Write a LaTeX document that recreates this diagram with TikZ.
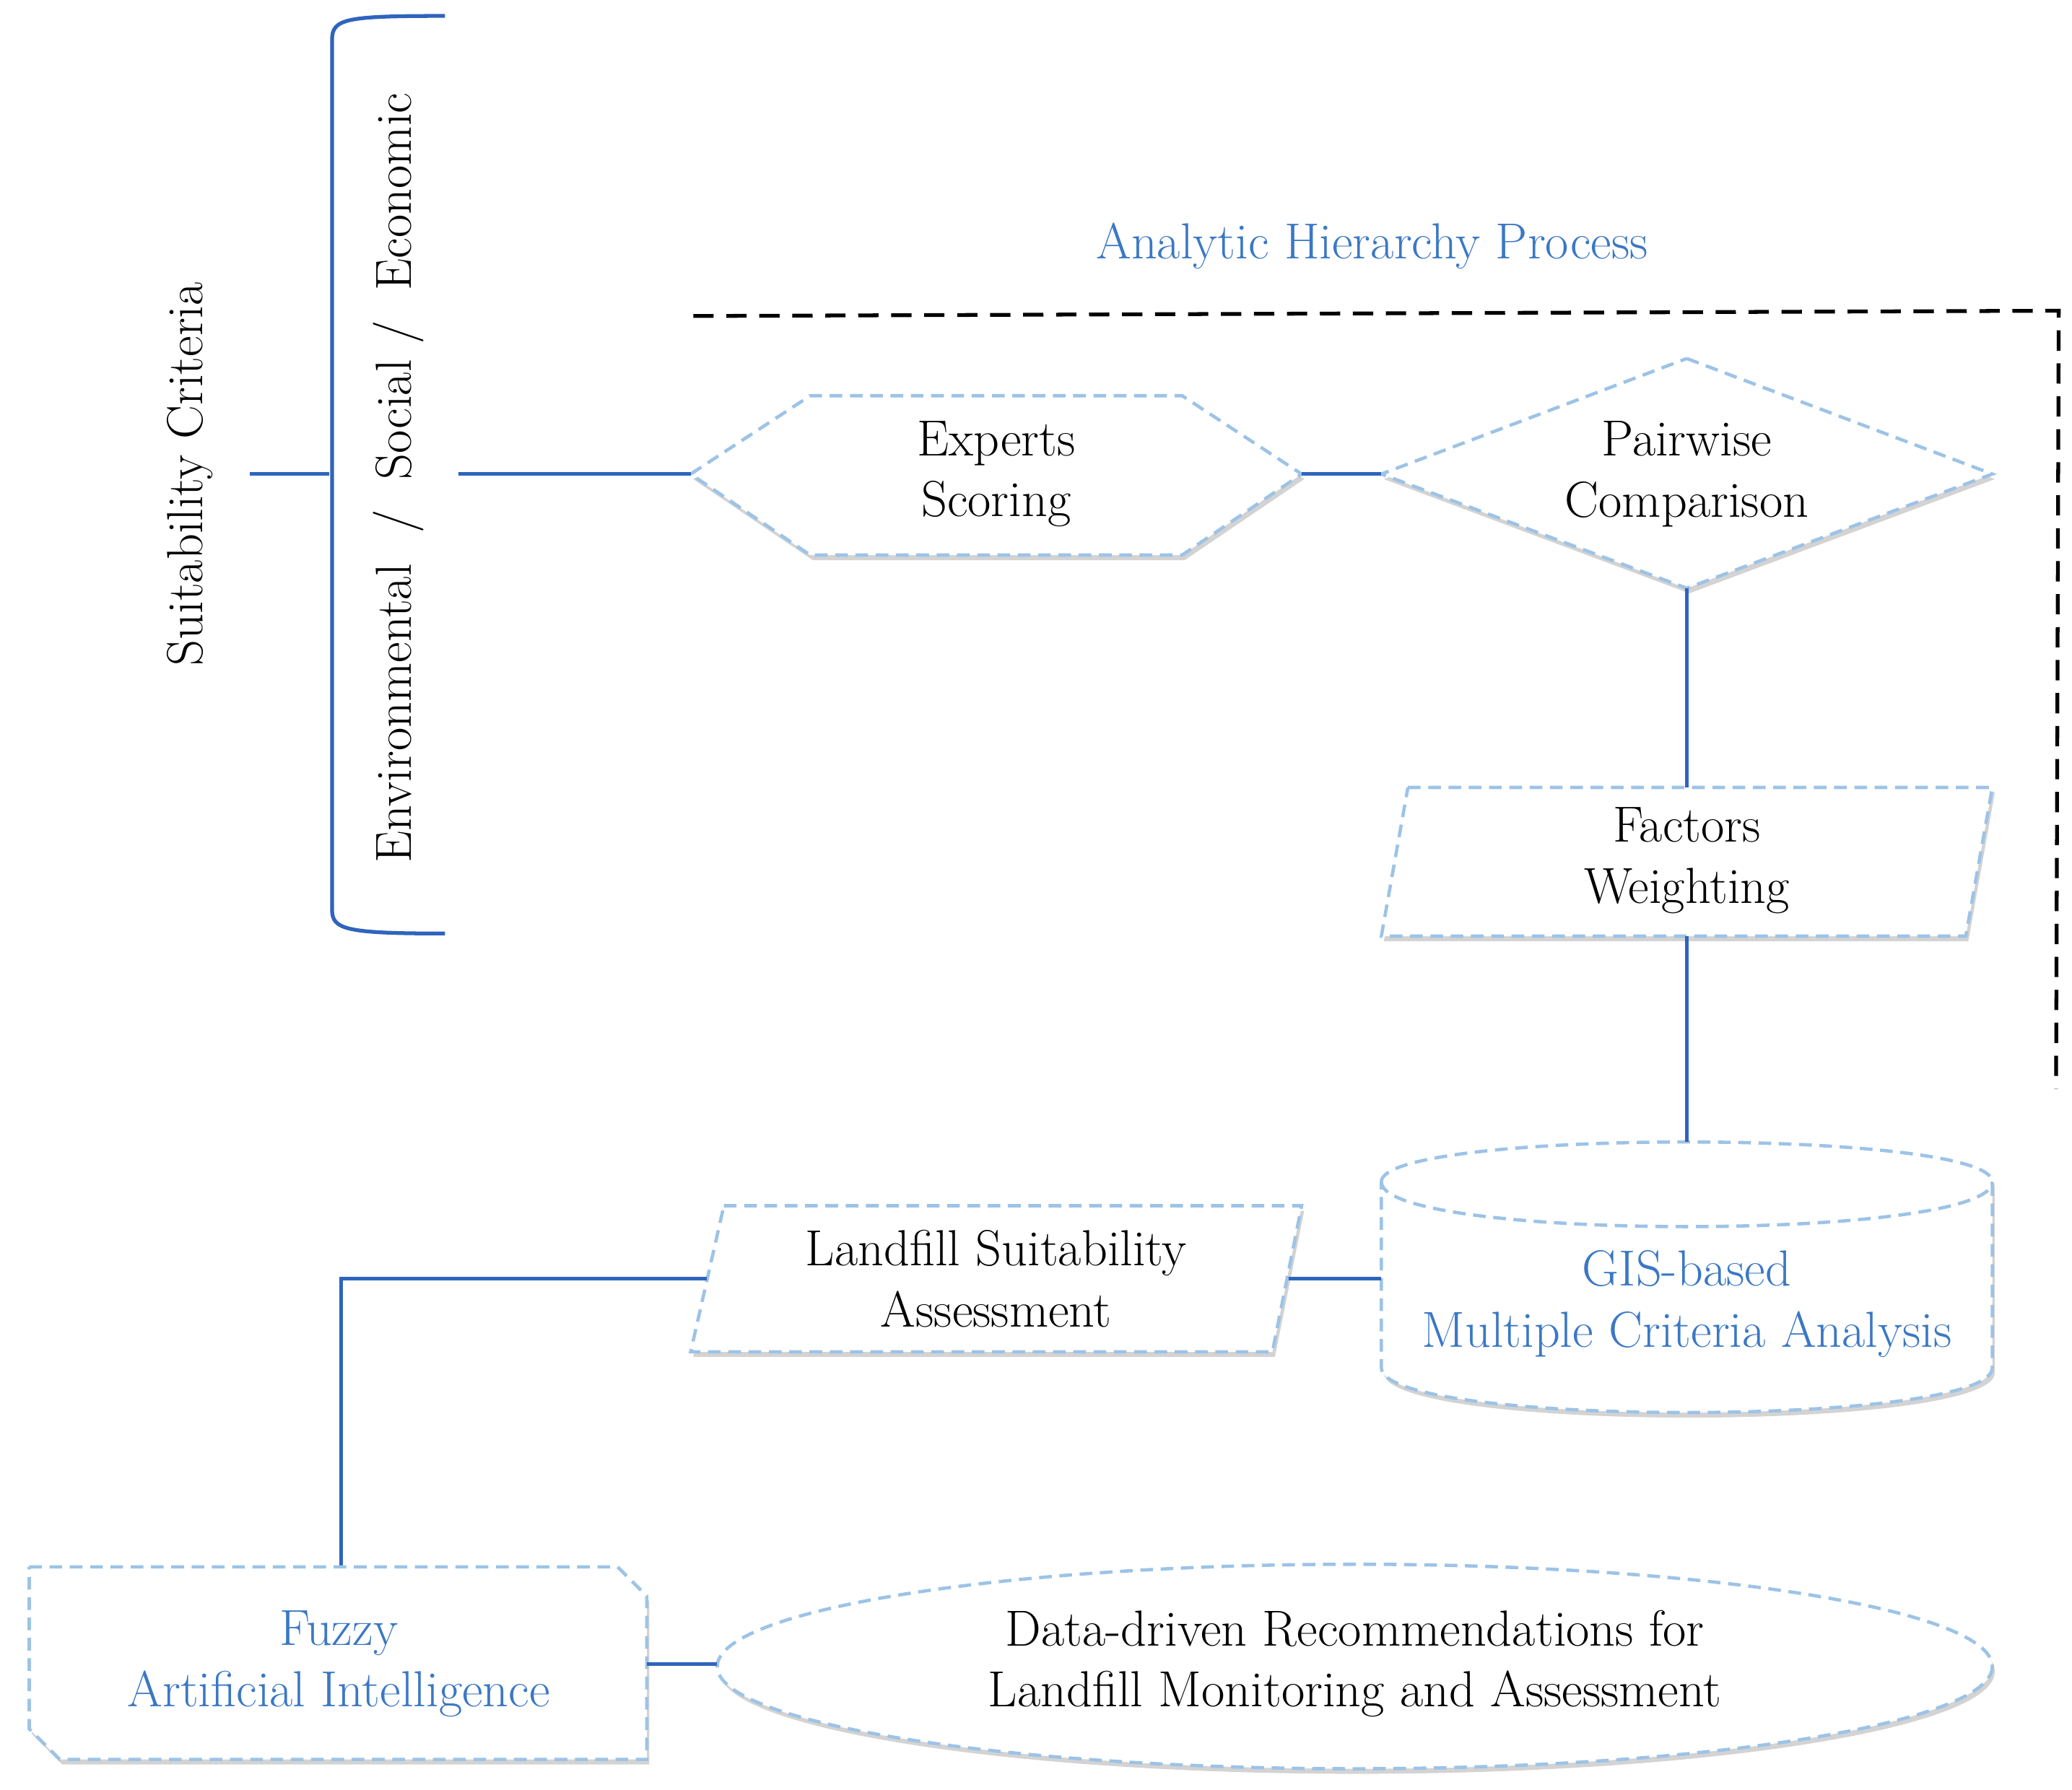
\documentclass[tikz,border=0pt]{standalone}
\usetikzlibrary{shapes.geometric,shadows}
\definecolor{ln}{HTML}{2F64BE}
\definecolor{tx}{HTML}{3B78C4}
\definecolor{bd}{HTML}{9DC3E6}
\begin{document}
\begin{tikzpicture}[x=0.0184cm,y=-0.0184cm,
  txt/.style={font=\fontsize{20}{24}\selectfont,align=center},
  shp/.style={draw=bd,dashed,line width=1.3pt,dash pattern=on 5pt off 3pt,fill=white,drop shadow={opacity=0.35,shadow xshift=1pt,shadow yshift=-2pt}},
  con/.style={draw=ln,line width=1.5pt}]
\useasboundingbox (0,0) rectangle (1560,1348);
% bracket
\draw[con] (335,12) .. controls (260,12) and (250,14) .. (250,30) -- (250,685) .. controls (250,700) and (260,703) .. (335,703);
\node[txt,rotate=90] (sc) at (143,357) {Suitability Criteria};
\node[txt,rotate=90] (ese) at (300,360) {Environmental \ / \ Social / \ Economic};
\coordinate (b1) at (188,357); \coordinate (b2) at (248,357); \coordinate (b3) at (345,357);
\draw[con] (b1)--(b2);
% AHP
\node[txt,text=tx] (ahp) at (1033,185) {Analytic Hierarchy Process};
\coordinate (d1) at (522,238); \coordinate (d2) at (1550,234); \coordinate (d3) at (1548,820);
\draw[line width=1.5pt,dash pattern=on 8pt off 5pt] (d1)--(d2)--(d3);
% hexagon
\draw[shp] (520,357)--(610,298)--(890,298)--(980,357)--(890,418)--(610,418)--cycle;
\node[txt] (es) at (750,357) {Experts\\Scoring};
\coordinate (esl) at (520,357); \coordinate (esr) at (980,357);
\draw[con] (b3)--(esl);
% diamond
\draw[shp] (1270,270)--(1500,357)--(1270,443)--(1040,357)--cycle;
\node[txt] (pc) at (1270,357) {Pairwise\\Comparison};
\coordinate (pcl) at (1040,357); \coordinate (pcb) at (1270,443);
\draw[con] (esr)--(pcl);
% factors
\draw[shp] (1060,593)--(1500,593)--(1480,705)--(1040,705)--cycle;
\node[txt] (fw) at (1270,648) {Factors\\Weighting};
\coordinate (fwt) at (1270,593); \coordinate (fwb) at (1270,705);
\draw[con] (pcb)--(fwt);
% cylinder
\draw[shp] (1040,890) .. controls (1040,850) and (1500,850) .. (1500,890) -- (1500,1030) .. controls (1500,1075) and (1040,1075) .. (1040,1030) -- cycle;
\draw[draw=bd,line width=1.3pt,dash pattern=on 5pt off 3pt] (1040,890) .. controls (1040,935) and (1500,935) .. (1500,890);
\node[txt,text=tx] (gis) at (1270,982) {GIS-based\\Multiple Criteria Analysis};
\coordinate (gist) at (1270,860); \coordinate (gisl) at (1040,963);
\draw[con] (fwb)--(gist);
% landfill
\draw[shp] (545,908)--(980,908)--(958,1018)--(520,1018)--cycle;
\node[txt] (lsa) at (750,963) {Landfill Suitability\\Assessment};
\coordinate (lsar) at (970,963); \coordinate (lsal) at (532,963);
\coordinate (cor) at (257,963); \coordinate (fzt) at (257,1180);
\draw[con] (lsar)--(gisl);
\draw[con] (lsal)--(cor)--(fzt);
% fuzzy
\draw[shp] (22,1180)--(465,1180)--(487,1202)--(487,1325)--(45,1325)--(22,1302)--cycle;
\node[txt,text=tx] (fz) at (255,1253) {Fuzzy\\Artificial Intelligence};
\coordinate (fzr) at (487,1253);
% ellipse
\draw[shp] (1020,1255) ellipse [x radius=480,y radius=77];
\node[txt] (dd) at (1020,1253) {Data-driven Recommendations for\\Landfill Monitoring and Assessment};
\coordinate (ddl) at (540,1253);
\draw[con] (fzr)--(ddl);
\end{tikzpicture}
\end{document}
